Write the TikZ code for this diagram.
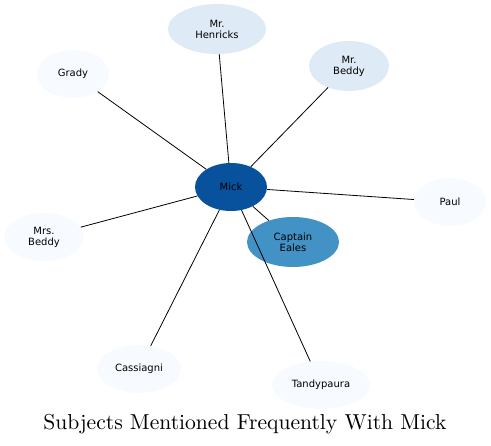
\documentclass[tikz,border=0pt]{standalone}
\usepackage{fontspec}
\newfontfamily\labelfont{DejaVu Sans}
\newfontfamily\titlefont{lmroman10-regular}[Extension=.otf]
\usetikzlibrary{shapes.geometric}

\definecolor{strongblue}{HTML}{08519C}
\definecolor{midblue}{HTML}{4292C6}
\definecolor{paleblue}{HTML}{DEEBF7}
\definecolor{faintblue}{HTML}{F7FBFF}

\begin{document}
\begin{tikzpicture}
    [
      x=1pt,y=-1pt,
      subject/.style={ellipse,inner sep=0pt,minimum height=48pt,align=center,
        font=\labelfont\fontsize{10}{11}\selectfont},
      center/.style={subject,fill=strongblue,minimum width=72pt},
      close/.style={subject,fill=midblue,minimum width=92pt,minimum height=50pt},
      mid/.style={subject,fill=paleblue,minimum height=50pt},
      far/.style={subject,fill=faintblue},
      link/.style={-,line width=0.8pt,black},
    ]

    \useasboundingbox (0,0) rectangle (491,446);

    \node (mick) [center] at (231,187) {Mick};
    \node (eales) [close] at (293,242) {Captain\\Eales};
    \node (henricks) [mid,minimum width=98pt] at (217,29) {Mr.\\Henricks};
    \node (mr-beddy) [mid,minimum width=80pt] at (349,66) {Mr.\\Beddy};
    \node (grady) [far,minimum width=72pt] at (73,74) {Grady};
    \node (paul) [far,minimum width=72pt] at (450,202) {Paul};
    \node (mrs-beddy) [far,minimum width=80pt] at (44,237) {Mrs.\\Beddy};
    \node (cassiagni) [far,minimum width=84pt] at (139,369) {Cassiagni};
    \node (tandypaura) [far,minimum width=98pt] at (321,385) {Tandypaura};

    \path
    (mick) edge [link] (henricks)
    (mick) edge [link] (mr-beddy)
    (mick) edge [link] (grady)
    (mick) edge [link] (paul)
    (mick) edge [link] (mrs-beddy)
    (mick) edge [link] (cassiagni)
    (mick) edge [link] (tandypaura)
    (mick) edge [link] (eales)
    ;

    \node (title) [font=\titlefont\fontsize{21.6}{25}\selectfont] at (245,424) {Subjects Mentioned Frequently With Mick};

  \end{tikzpicture}
\end{document}
